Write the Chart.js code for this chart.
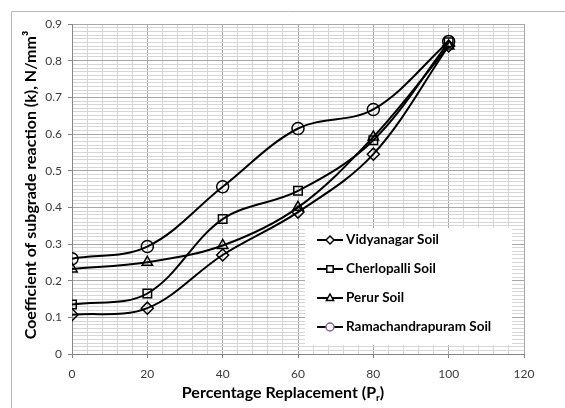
<!DOCTYPE html>
<html>
<head>
<meta charset="utf-8">
<script src="https://cdn.jsdelivr.net/npm/chart.js@4.4.0/dist/chart.umd.min.js"></script>
<style>
  html, body { margin: 0; padding: 0; background: #fff; }
  #wrap { width: 565px; height: 408px; position: relative; }
</style>
</head>
<body>
<div id="wrap"><canvas id="grafica" width="565" height="408"></canvas></div>
<script>
// datos
const reemplazo = [0, 20, 40, 60, 80, 100];
const vidyanagar = [0.107, 0.125, 0.27, 0.387, 0.545, 0.84];
const cherlopalli = [0.135, 0.165, 0.368, 0.445, 0.583, 0.85];
const perur = [0.232, 0.25, 0.296, 0.40, 0.592, 0.84];
const ramachandrapuram = [0.26, 0.293, 0.456, 0.615, 0.667, 0.852];

const nombres = ["Vidyanagar Soil", "Cherlopalli Soil", "Perur Soil", "Ramachandrapuram Soil"];
const marcadores = ["rectRot", "rect", "triangle", "circle"];
const series = [vidyanagar, cherlopalli, perur, ramachandrapuram];

const fuente = "Lato, 'Open Sans', sans-serif";

function serie(valores, i) {
  return {
    label: nombres[i],
    data: valores.map((v, k) => ({ x: reemplazo[k], y: v })),
    borderColor: "#000",
    borderWidth: 2,
    backgroundColor: "#fff",
    pointStyle: marcadores[i],
    pointRadius: marcadores[i] === "rect" ? 6 : 6,
    pointBorderColor: "#000",
    pointBackgroundColor: "rgba(255,255,255,0)",
    pointBorderWidth: 1.5,
    tension: 0.35,
    fill: false
  };
}

function marca(ctx, tipo, x, y, r, color) {
  ctx.save();
  ctx.strokeStyle = color;
  ctx.lineWidth = 1.5;
  ctx.fillStyle = "#fff";
  ctx.beginPath();
  if (tipo === "circle") {
    ctx.arc(x, y, r, 0, Math.PI * 2);
  } else if (tipo === "rect") {
    ctx.rect(x - r * 0.8, y - r * 0.8, r * 1.6, r * 1.6);
  } else if (tipo === "rectRot") {
    ctx.moveTo(x, y - r); ctx.lineTo(x + r, y); ctx.lineTo(x, y + r); ctx.lineTo(x - r, y); ctx.closePath();
  } else {
    ctx.moveTo(x, y - r); ctx.lineTo(x + r * 0.9, y + r * 0.6); ctx.lineTo(x - r * 0.9, y + r * 0.6); ctx.closePath();
  }
  ctx.fill();
  ctx.stroke();
  ctx.restore();
}

const decorado = {
  id: "decorado",
  beforeDraw(chart) {
    const ctx = chart.ctx;
    ctx.save();
    ctx.fillStyle = "#fff";
    ctx.fillRect(0, 0, chart.width, chart.height);
    ctx.strokeStyle = "#b8b8b8";
    ctx.lineWidth = 1;
    ctx.beginPath();
    ctx.moveTo(565, 11.5);
    ctx.lineTo(11.5, 11.5);
    ctx.lineTo(11.5, 408);
    ctx.stroke();
    ctx.restore();
  },
  afterDraw(chart) {
    const ctx = chart.ctx;
    ctx.save();
    // leyenda
    ctx.fillStyle = "#fff";
    ctx.fillRect(305, 228, 207, 117);
    const filas = [240, 269, 298, 327];
    ctx.font = "bold 13.5px " + fuente;
    ctx.textBaseline = "middle";
    nombres.forEach((n, i) => {
      const y = filas[i];
      ctx.strokeStyle = "#000";
      ctx.lineWidth = 2;
      ctx.beginPath();
      ctx.moveTo(317, y);
      ctx.lineTo(343, y);
      ctx.stroke();
      marca(ctx, marcadores[i], 330, y, 4, i === 3 ? "#8064a2" : "#000");
      ctx.fillStyle = "#000";
      ctx.textAlign = "left";
      ctx.fillText(n, 346, y);
    });
    // titulos de ejes
    ctx.fillStyle = "#000";
    ctx.font = "bold 16px " + fuente;
    const base = "Percentage Replacement (P";
    const w1 = ctx.measureText(base).width;
    ctx.font = "bold 10px " + fuente;
    const w2 = ctx.measureText("r").width;
    ctx.font = "bold 16px " + fuente;
    const w3 = ctx.measureText(")").width;
    let x0 = 283 - (w1 + w2 + w3) / 2;
    ctx.textAlign = "left";
    ctx.fillText(base, x0, 393);
    ctx.font = "bold 10px " + fuente;
    ctx.fillText("r", x0 + w1, 398);
    ctx.font = "bold 16px " + fuente;
    ctx.fillText(")", x0 + w1 + w2, 393);

    ctx.translate(31, 185);
    ctx.rotate(-Math.PI / 2);
    ctx.textAlign = "center";
    ctx.fillText("Coefficient of subgrade reaction (k), N/mm\u00B3", 0, 0);
    ctx.restore();
  }
};

const esMayorX = v => Math.round(v) % 20 === 0;
const esMayorY = v => Math.round(v * 100) % 10 === 0;

new Chart(document.getElementById("grafica"), {
  type: "line",
  data: { datasets: series.map(serie) },
  options: {
    responsive: false,
    animation: false,
    layout: { padding: { left: 0, top: 24, right: 41, bottom: 0 } },
    plugins: { legend: { display: false }, tooltip: { enabled: false } },
    scales: {
      x: {
        type: "linear",
        min: 0,
        max: 120,
        afterFit: s => { s.height = 54; },
        ticks: {
          stepSize: 4,
          autoSkip: false,
          maxRotation: 0,
          padding: 9,
          color: "#3a3a3a",
          font: { family: fuente, size: 12 },
          callback: v => esMayorX(v) ? String(Math.round(v)) : ""
        },
        grid: {
          color: c => esMayorX(c.tick.value) ? "#a8a8a8" : "#d6d6d6",
          tickColor: c => esMayorX(c.tick.value) ? "#868686" : "rgba(0,0,0,0)",
          tickLength: 4
        },
        border: { color: "#868686" }
      },
      y: {
        min: 0,
        max: 0.9,
        afterFit: s => { s.width = 72; },
        ticks: {
          stepSize: 0.01,
          autoSkip: false,
          padding: 6,
          color: "#3a3a3a",
          font: { family: fuente, size: 12 },
          callback: v => esMayorY(v) ? String(Math.round(v * 10) / 10) : ""
        },
        grid: {
          color: c => esMayorY(c.tick.value) ? "#a8a8a8" : "#d6d6d6",
          tickColor: c => esMayorY(c.tick.value) ? "#868686" : "rgba(0,0,0,0)",
          tickLength: 4
        },
        border: { color: "#868686" }
      }
    }
  },
  plugins: [decorado]
});
</script>
</body>
</html>
